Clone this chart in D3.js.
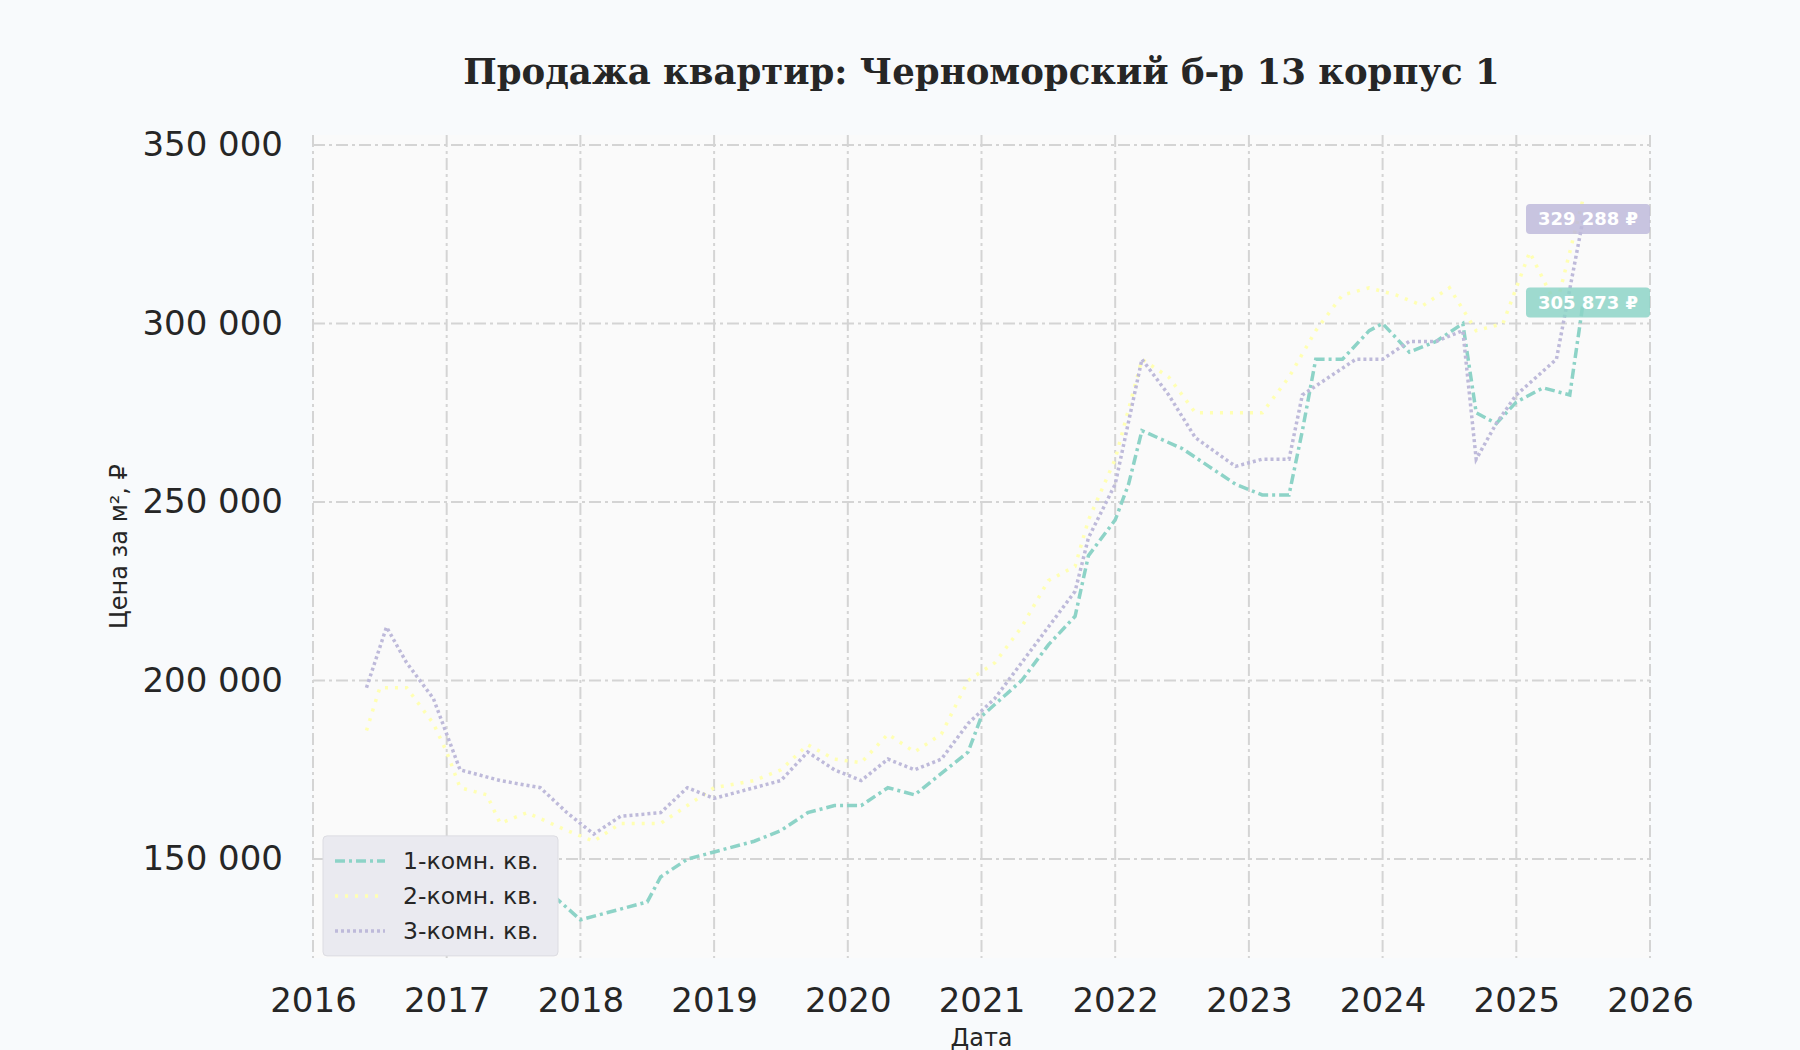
<!DOCTYPE html>
<html><head><meta charset="utf-8">
<script src="https://cdn.jsdelivr.net/npm/d3@7"></script>
<style>body{margin:0;background:#f8fafc;}</style>
</head><body><svg width="1800" height="1050"></svg>
<script>
const t1 = [2016.45,2016.8,2017.2,2017.5,2017.7,2018.0,2018.3,2018.5,2018.6,2018.8,2019.0,2019.3,2019.5,2019.7,2019.9,2020.1,2020.3,2020.5,2020.7,2020.9,2021.0,2021.3,2021.5,2021.7,2021.8,2022.0,2022.1,2022.2,2022.5,2022.7,2022.9,2023.1,2023.3,2023.4,2023.5,2023.7,2023.9,2024.0,2024.2,2024.4,2024.6,2024.7,2024.85,2025.0,2025.2,2025.4,2025.5];
const v1 = [153000,150000,148000,145000,143000,133000,136000,138000,145000,150000,152000,155000,158000,163000,165000,165000,170000,168000,174000,180000,190000,200000,210000,218000,235000,245000,255000,270000,265000,260000,255000,252000,252000,270000,290000,290000,298000,300000,292000,295000,300000,275000,272000,278000,282000,280000,305873];
const t2 = [2016.4,2016.5,2016.7,2016.9,2017.0,2017.1,2017.3,2017.4,2017.6,2017.9,2018.1,2018.3,2018.6,2018.8,2019.0,2019.3,2019.5,2019.7,2019.9,2020.1,2020.3,2020.5,2020.7,2020.9,2021.1,2021.3,2021.5,2021.7,2021.8,2022.0,2022.2,2022.4,2022.6,2022.9,2023.1,2023.3,2023.5,2023.7,2023.9,2024.1,2024.3,2024.5,2024.7,2024.9,2025.1,2025.3,2025.5];
const v2 = [186000,198000,198000,188000,180000,170000,168000,160000,163000,158000,155000,160000,160000,165000,170000,172000,175000,182000,178000,177000,185000,180000,185000,200000,205000,215000,228000,232000,245000,262000,290000,285000,275000,275000,275000,285000,298000,308000,310000,308000,305000,310000,298000,300000,320000,305000,335000];
const t3 = [2016.4,2016.55,2016.7,2016.9,2017.0,2017.1,2017.4,2017.7,2017.9,2018.1,2018.3,2018.6,2018.8,2019.0,2019.3,2019.5,2019.7,2019.9,2020.1,2020.3,2020.5,2020.7,2020.9,2021.1,2021.3,2021.5,2021.7,2021.8,2022.0,2022.2,2022.4,2022.6,2022.9,2023.1,2023.3,2023.4,2023.6,2023.8,2024.0,2024.2,2024.4,2024.6,2024.7,2024.85,2025.0,2025.3,2025.5];
const v3 = [198000,215000,205000,195000,185000,175000,172000,170000,163000,157000,162000,163000,170000,167000,170000,172000,180000,175000,172000,178000,175000,178000,188000,195000,205000,215000,225000,240000,255000,290000,280000,268000,260000,262000,262000,280000,285000,290000,290000,295000,295000,298000,262000,272000,280000,290000,329288];
const names = ["1-комн. кв.","2-комн. кв.","3-комн. кв."];
const colors = ["#8dd3c7","#ffffb3","#bebada"];
const dashes = ["10,4,3,4","3,7","3,3"];
const yTicks = [150000,200000,250000,300000,350000];
const xTicks = d3.range(2016,2027);
const labels = [{v:305873,c:"#8dd3c7"},{v:329288,c:"#bebada"}];

const svg = d3.select("svg");
const L=313,R=1650,T=135,B=958;
const x = d3.scaleLinear().domain([2016,2026]).range([L,R]);
const y = d3.scaleLinear().domain([122300,352800]).range([B,T]);
const fmt = v => d3.format(",")(v).replace(/,/g," ");

svg.append("rect").attr("x",L).attr("y",T).attr("width",R-L).attr("height",B-T).attr("fill","#fafafa");
const grid = svg.append("g").attr("stroke","#d4d4d4").attr("stroke-width",2).attr("stroke-dasharray","12,4,3,4");
grid.selectAll(".gx").data(xTicks).join("line").attr("x1",x).attr("x2",x).attr("y1",T).attr("y2",B);
grid.selectAll(".gy").data(yTicks).join("line").attr("y1",y).attr("y2",y).attr("x1",L).attr("x2",R);

const ax = svg.append("g").attr("transform",`translate(0,${B})`).call(d3.axisBottom(x).tickValues(xTicks).tickFormat(d3.format("d")).tickSize(0).tickPadding(30));
const ay = svg.append("g").attr("transform",`translate(${L},0)`).call(d3.axisLeft(y).tickValues(yTicks).tickFormat(fmt).tickSize(0).tickPadding(30));
[ax,ay].forEach(a=>{a.select(".domain").remove();a.selectAll("text").attr("font-family","DejaVu Sans").attr("font-size",34).attr("fill","#262626");});

const series=[[t1,v1],[t2,v2],[t3,v3]];
const line=d3.line().x(d=>x(d[0])).y(d=>y(d[1]));
series.forEach(([t,v],i)=>{
  svg.append("path").datum(t.map((d,j)=>[d,v[j]])).attr("d",line).attr("fill","none")
    .attr("stroke",colors[i]).attr("stroke-width",3.5).attr("stroke-dasharray",dashes[i]);
});

labels.forEach(l=>{
  const g=svg.append("g").attr("transform",`translate(${R},${y(l.v)})`);
  g.append("rect").attr("x",-124).attr("y",-15).attr("width",124).attr("height",30).attr("rx",4).attr("fill",l.c).attr("opacity",0.85);
  g.append("text").attr("x",-62).attr("y",6).attr("text-anchor","middle").attr("font-family","DejaVu Sans").attr("font-weight","bold").attr("font-size",18).attr("fill","#fff").text(fmt(l.v)+" ₽");
});

const ly0=y(156500);
const leg=svg.append("g").attr("transform",`translate(323,${ly0})`);
leg.append("rect").attr("width",235).attr("height",120).attr("rx",4).attr("fill","#eaeaf0").attr("stroke","#dcdce2");
names.forEach((n,i)=>{
  leg.append("line").attr("x1",12).attr("x2",62).attr("y1",25+i*35).attr("y2",25+i*35).attr("stroke",colors[i]).attr("stroke-width",3.5).attr("stroke-dasharray",dashes[i]);
  leg.append("text").attr("x",80).attr("y",33+i*35).attr("font-family","DejaVu Sans").attr("font-size",23.5).attr("fill","#262626").text(n);
});

svg.append("text").attr("x",(L+R)/2).attr("y",84).attr("text-anchor","middle").attr("font-family","DejaVu Serif").attr("font-weight","bold").attr("font-size",35.5).attr("fill","#262626").text("Продажа квартир: Черноморский б-р 13 корпус 1");
svg.append("text").attr("x",(L+R)/2).attr("y",1046).attr("text-anchor","middle").attr("font-family","DejaVu Sans").attr("font-size",24).attr("fill","#262626").text("Дата");
svg.append("text").attr("transform",`translate(127,${(T+B)/2}) rotate(-90)`).attr("text-anchor","middle").attr("font-family","DejaVu Sans").attr("font-size",24).attr("fill","#262626").text("Цена за м², ₽");
</script></body></html>
